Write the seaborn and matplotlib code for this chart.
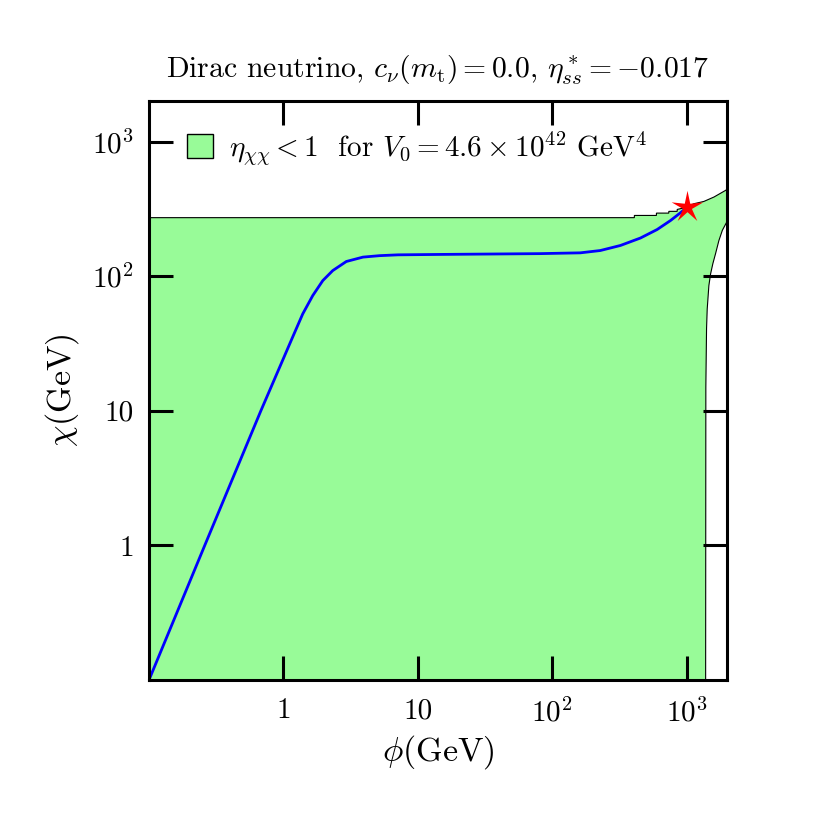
import matplotlib
matplotlib.use("Agg")
import matplotlib.pyplot as plt
from matplotlib.patches import Patch
from matplotlib.path import Path
from matplotlib.ticker import FixedLocator, FixedFormatter, NullLocator
import numpy as np
import pandas as pd
import seaborn as sns

# trajectory in field space (phi, chi) in GeV
phi_traj = [0.1, 0.26, 0.68, 1.161, 1.393, 1.655, 1.965, 2.33, 2.94, 3.91,
            5.2, 7.13, 14.6, 81, 162, 228, 322, 454, 604, 760, 902, 1000]
chi_traj = [0.1, 1.0, 10.0, 34.5, 52.4, 71.8, 92.7, 110, 128.5, 138.5,
            142, 144, 145, 147, 149, 155, 169, 192, 222, 259, 296, 322]

# end point of the trajectory
phi_end = [1000]
chi_end = [326]

# boundary of the eta_chichi < 1 region
phi_region = [0.1, 0.1, 409, 409, 597, 597, 738, 738, 852, 852, 1000, 1133,
              1346, 1599, 1954, 2000, 2000, 1990, 1847, 1741, 1644, 1570,
              1510, 1466, 1425, 1409, 1392, 1387]
chi_region = [0.1, 272, 272, 282.5, 282.5, 294, 294, 303, 303, 313, 325, 345,
              359, 387, 434, 442, 252, 252, 219, 184, 147, 124,
              104, 85, 57, 41, 15, 0.1]

tick_vals = [1, 10, 100, 1000]
tick_labels = ["1", "10", "$10^2$", "$10^3$"]

sns.set_style("ticks")
plt.rcParams["font.family"] = ["cmr10", "DejaVu Serif"]
plt.rcParams["mathtext.fontset"] = "cm"
plt.rcParams["axes.unicode_minus"] = False
for key in ("text.color", "axes.labelcolor", "xtick.color", "ytick.color"):
    plt.rcParams[key] = "black"

fig = plt.figure(figsize=(8.3, 8.3), dpi=100)
ax = fig.add_axes([0.1795, 0.1807, 0.6964, 0.6976])
ax.set_axisbelow(False)

ax.fill(phi_region, chi_region, facecolor="palegreen", edgecolor="black",
        linewidth=0.8, zorder=1)

traj = pd.DataFrame({"phi": phi_traj, "chi": chi_traj})
sns.lineplot(data=traj, x="phi", y="chi", sort=False, estimator=None,
             color="blue", linewidth=2.0, ax=ax, zorder=3)

star = Path.unit_regular_star(5, innerCircle=0.28)
ax.plot(phi_end, chi_end, linestyle="none", marker=star, markersize=24,
        color="red", markeredgewidth=0, zorder=4)

ax.set_xscale("log")
ax.set_yscale("log")
ax.set_xlim(0.1, 2000)
ax.set_ylim(0.1, 2000)

for axis in (ax.xaxis, ax.yaxis):
    axis.set_major_locator(FixedLocator(tick_vals))
    axis.set_major_formatter(FixedFormatter(tick_labels))
    axis.set_minor_locator(NullLocator())

ax.tick_params(which="major", direction="in", length=17, width=2.2,
               top=True, right=True, labelsize=21, color="black",
               labelcolor="black")
ax.tick_params(axis="x", pad=13)
ax.tick_params(axis="y", pad=11)
for s in ax.spines.values():
    s.set_linewidth(2.2)
    s.set_color("black")
    s.set_zorder(5)

ax.set_xlabel(r"$\phi$(GeV)", fontsize=24.5, labelpad=4)
ax.set_ylabel(r"$\chi$(GeV)", fontsize=24.5, labelpad=8)
ax.set_title(r"Dirac neutrino, $c_\nu(m_\mathrm{t}) = 0.0$, $\eta^*_{ss} = -0.017$",
             fontsize=21.4, pad=17)

handle = Patch(facecolor="palegreen", edgecolor="black", linewidth=1)
ax.legend([handle],
          [r"$\eta_{\chi\chi} < 1$  for $V_0 = 4.6 \times 10^{42}$ GeV$^4$"],
          loc="upper left", bbox_to_anchor=(0.0, 1.017), frameon=False,
          fontsize=21, handlelength=0.9, handleheight=0.9, handletextpad=0.55,
          borderaxespad=0.8, borderpad=0.5)

fig.savefig("out.png", dpi=100)
